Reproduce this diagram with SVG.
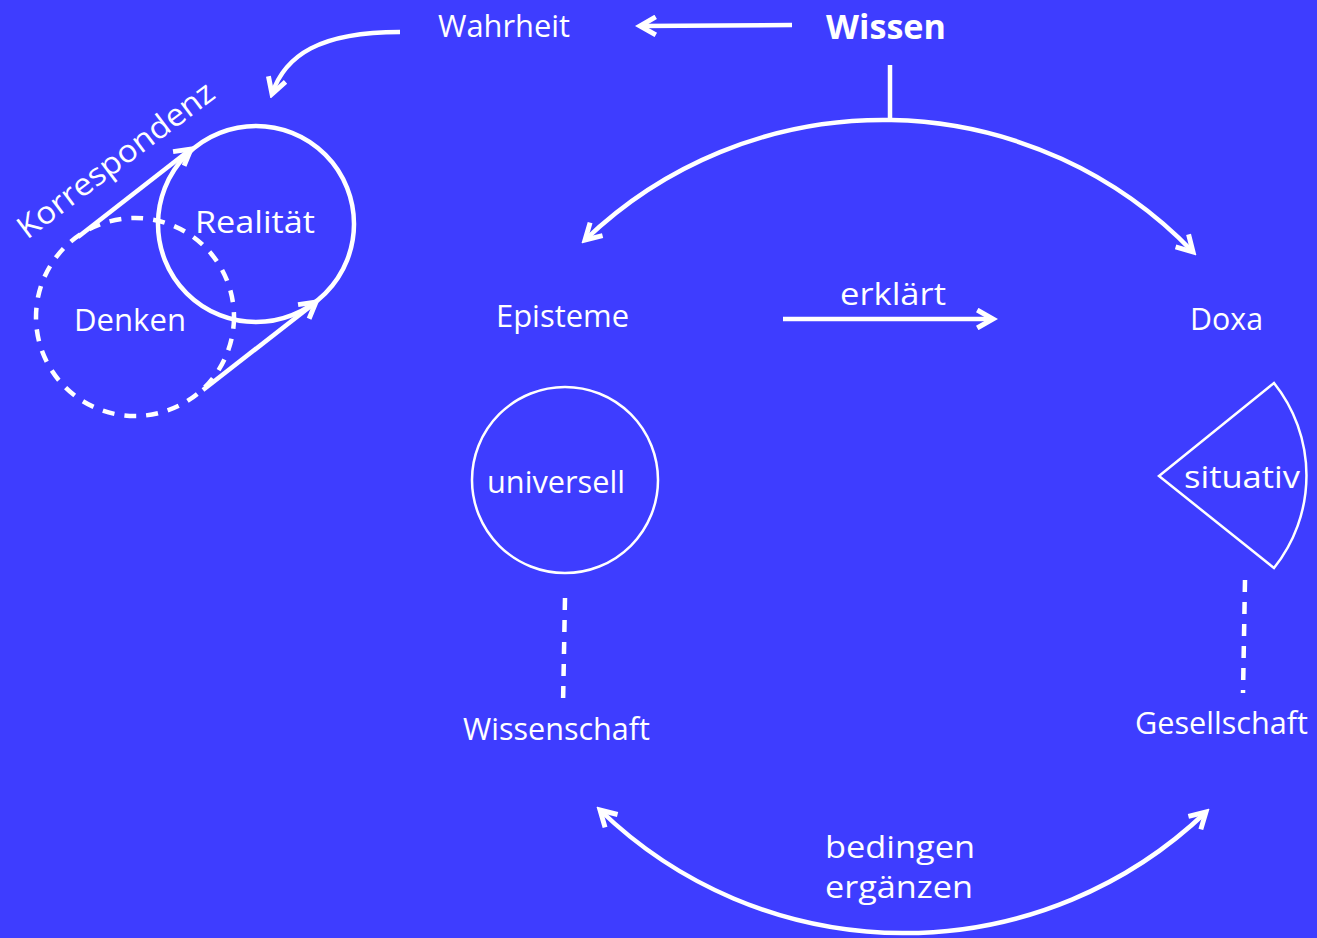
<svg xmlns="http://www.w3.org/2000/svg" width="1317" height="938" viewBox="0 0 1317 938">
<defs>
<style>
text{font-family:"Open Sans","Liberation Sans",sans-serif;fill:#fff;font-size:31px}
.b{font-weight:bold;font-size:34.5px}
.ln{fill:none;stroke:#fff;stroke-width:4.5}
.th{fill:none;stroke:#fff;stroke-width:2.5}
.ds{fill:none;stroke:#fff;stroke-width:4.5;stroke-dasharray:12 10}
</style>
<marker id="ah" viewBox="0 0 10 10" refX="8" refY="5" markerWidth="5" markerHeight="5" orient="auto-start-reverse" markerUnits="strokeWidth">
<path d="M1,1 L8,5 L1,9" fill="none" stroke="#fff" stroke-width="2.2"/>
</marker>
</defs>
<rect width="1317" height="938" fill="#3E3DFF"/>
<g id="connectors">
<path class="ln" d="M792,25 L640,26" marker-end="url(#ah)"/>
<path class="ln" d="M400,32 C320,32 285,55 272,94" marker-end="url(#ah)"/>
<path class="ln" d="M890,65 L890,121"/>
<path class="ln" d="M585,240 A430,430 0 0 1 1193,252" marker-start="url(#ah)" marker-end="url(#ah)"/>
<path class="ln" d="M783,319 L993,319" marker-end="url(#ah)"/>
<path class="ln" d="M78,237 L191,149" marker-end="url(#ah)"/>
<path class="ln" d="M203,390 L316,302" marker-end="url(#ah)"/>
<path class="ds" d="M565,598 L563,705"/>
<path class="ds" d="M1245,580 L1243,693"/>
<path class="ln" d="M600,810 A437,437 0 0 0 1206,812" marker-start="url(#ah)" marker-end="url(#ah)"/>
</g>
<g id="wahrheit"><text x="438" y="37" font-size="32" textLength="132" lengthAdjust="spacingAndGlyphs">Wahrheit</text></g>
<g id="wissen"><text class="b" x="826" y="39" textLength="120" lengthAdjust="spacingAndGlyphs">Wissen</text></g>
<g id="korrespondenz"><text transform="translate(27,240) rotate(-37)" font-size="32" textLength="238" lengthAdjust="spacingAndGlyphs">Korrespondenz</text></g>
<g id="denken">
<circle class="ds" cx="135" cy="317" r="99"/>
<text x="74" y="331" textLength="112" lengthAdjust="spacingAndGlyphs">Denken</text>
</g>
<g id="realitaet">
<circle class="ln" cx="256" cy="224" r="98"/>
<text x="195" y="233" font-size="33.5" textLength="120" lengthAdjust="spacingAndGlyphs">Realität</text>
</g>
<g id="episteme"><text x="496" y="327" textLength="133" lengthAdjust="spacingAndGlyphs">Episteme</text></g>
<g id="erklaert"><text x="840" y="305" font-size="33" textLength="106" lengthAdjust="spacingAndGlyphs">erklärt</text></g>
<g id="doxa"><text x="1190" y="330" textLength="73" lengthAdjust="spacingAndGlyphs">Doxa</text></g>
<g id="universell">
<circle class="th" cx="565" cy="480" r="93"/>
<text x="487" y="493" textLength="138" lengthAdjust="spacingAndGlyphs">universell</text>
</g>
<g id="situativ">
<path class="th" d="M1159,476 L1274,383 A148,148 0 0 1 1274,568 Z"/>
<text x="1184" y="488" font-size="33" textLength="116" lengthAdjust="spacingAndGlyphs">situativ</text>
</g>
<g id="wissenschaft"><text x="463" y="740" textLength="187" lengthAdjust="spacingAndGlyphs">Wissenschaft</text></g>
<g id="gesellschaft"><text x="1135" y="734" textLength="173" lengthAdjust="spacingAndGlyphs">Gesellschaft</text></g>
<g id="bedingen">
<text x="825" y="858" font-size="35" textLength="150" lengthAdjust="spacingAndGlyphs">bedingen</text>
<text x="825" y="898" font-size="35" textLength="148" lengthAdjust="spacingAndGlyphs">ergänzen</text>
</g>
</svg>
